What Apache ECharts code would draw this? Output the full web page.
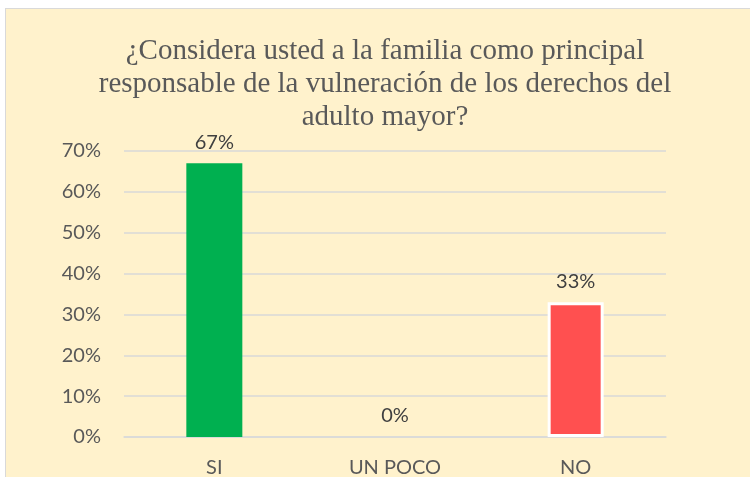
<!DOCTYPE html>
<html>
<head>
<meta charset="utf-8">
<script src="https://cdn.jsdelivr.net/npm/echarts@6/dist/echarts.min.js"></script>
<style>
  html, body { margin: 0; padding: 0; background: #fff; overflow: hidden; }
  #chart {
    position: absolute; left: 5px; top: 8px;
    width: 760px; height: 480px;
    background: #fff2cc; border: 1px solid #d9d9d9;
  }
</style>
</head>
<body>
<div id="chart"></div>
<script>
const categories = ['SI', 'UN POCO', 'NO']
const values = [67, 0, 33]
const yTicks = [0, 10, 20, 30, 40, 50, 60, 70]

const COLORS = ['#00b050', '#00b050', '#ff5050']
const TEXT = '#595959'
const FONT = 'Lato, "Open Sans", sans-serif'

const chart = echarts.init(document.getElementById('chart'))
chart.setOption({
  animation: false,
  title: {
    text: '¿Considera usted a la familia como principal\nresponsable de la vulneración de los derechos del\nadulto mayor?',
    left: 374,
    top: 21,
    textAlign: 'center',
    textStyle: {
      fontFamily: '"Liberation Serif", "Times New Roman", serif',
      fontSize: 29,
      fontWeight: 'normal',
      lineHeight: 33,
      color: TEXT
    }
  },
  grid: { left: 118, top: 142, width: 542, height: 286 },
  xAxis: {
    type: 'category',
    data: categories,
    axisLine: { show: true, lineStyle: { color: '#d9d9d9', width: 1.5 } },
    axisTick: { show: false },
    axisLabel: { color: TEXT, fontSize: 20, fontFamily: FONT, margin: 21 }
  },
  yAxis: {
    type: 'value',
    min: yTicks[0],
    max: yTicks[yTicks.length - 1],
    interval: 10,
    axisLine: { show: false },
    axisTick: { show: false },
    axisLabel: {
      color: TEXT, fontSize: 20, fontFamily: FONT, margin: 23,
      formatter: v => v + '%'
    },
    splitLine: { lineStyle: { color: '#d9d9d9', width: 1.5 } }
  },
  series: [{
    type: 'bar',
    barWidth: 56,
    data: values.map((v, i) => ({
      value: v,
      itemStyle: i === 2
        ? { color: COLORS[i], borderColor: '#fff', borderWidth: 3 }
        : { color: COLORS[i] }
    })),
    label: {
      show: true,
      position: 'top',
      distance: 11,
      color: '#404040',
      fontSize: 20,
      fontFamily: FONT,
      formatter: p => p.value + '%'
    }
  }]
})
</script>
</body>
</html>
